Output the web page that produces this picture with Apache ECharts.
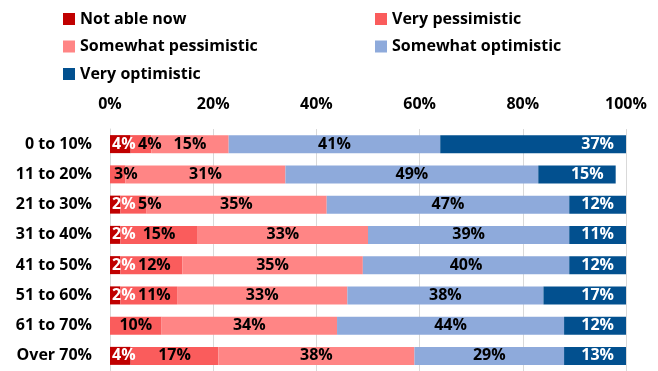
<!DOCTYPE html>
<html>
<head>
<meta charset="utf-8">
<script src="https://cdn.jsdelivr.net/npm/echarts@6/dist/echarts.min.js"></script>
<style>
  html, body { margin: 0; padding: 0; background: #fff; }
  #chart { width: 658px; height: 371px; }
</style>
</head>
<body>
<div id="chart"></div>
<script>
// Age bands (share of life elapsed) shown top to bottom
var categories = ['0 to 10%', '11 to 20%', '21 to 30%', '31 to 40%', '41 to 50%', '51 to 60%', '61 to 70%', 'Over 70%'];

// Percentage of respondents in each outlook group
var notAbleNow          = [4, 0, 2, 2, 2, 2, 0, 4];
var veryPessimistic     = [4, 3, 5, 15, 12, 11, 10, 17];
var somewhatPessimistic = [15, 31, 35, 33, 35, 33, 34, 38];
var somewhatOptimistic  = [41, 49, 47, 39, 40, 38, 44, 29];
var veryOptimistic      = [37, 15, 12, 11, 12, 17, 12, 13];

var seriesNames = ['Not able now', 'Very pessimistic', 'Somewhat pessimistic', 'Somewhat optimistic', 'Very optimistic'];
var xTicks = [0, 20, 40, 60, 80, 100];

var FONT = '"Open Sans", "DejaVu Sans", sans-serif';
var GRID_LEFT = 110;

var chart = echarts.init(document.getElementById('chart'), null, { renderer: 'canvas' });

function pctLabel(p) {
  return p.value > 0 ? p.value + '%' : '';
}

function makeSeries(name, values, color, labelOpts) {
  return {
    name: name,
    type: 'bar',
    stack: 'total',
    barWidth: 18,
    data: values,
    itemStyle: { color: color },
    label: Object.assign({
      show: true,
      position: 'inside',
      formatter: pctLabel,
      color: '#000',
      fontFamily: FONT,
      fontWeight: 'bold',
      fontSize: 16
    }, labelOpts || {}),
    emphasis: { disabled: true }
  };
}

var legendText = { fontFamily: FONT, fontWeight: 'bold', fontSize: 16, color: '#000', lineHeight: 16 };

var option = {
  animation: false,
  backgroundColor: '#fff',
  legend: [
    {
      orient: 'vertical', left: 58, top: 6,
      itemWidth: 12, itemHeight: 12, itemGap: 11.5, icon: 'rect',
      textStyle: legendText,
      data: [seriesNames[0], seriesNames[2], seriesNames[4]],
      selectedMode: false
    },
    {
      orient: 'vertical', left: 370, top: 6,
      itemWidth: 12, itemHeight: 12, itemGap: 11.5, icon: 'rect',
      textStyle: legendText,
      data: [seriesNames[1], seriesNames[3]],
      selectedMode: false
    }
  ],
  grid: { left: GRID_LEFT, right: 32, top: 129, bottom: -2.5, containLabel: false },
  xAxis: {
    type: 'value',
    position: 'top',
    min: xTicks[0],
    max: xTicks[xTicks.length - 1],
    interval: xTicks[1] - xTicks[0],
    axisLine: { show: false },
    axisTick: { show: false },
    splitLine: { show: true, lineStyle: { color: '#d9d9d9', width: 1 } },
    axisLabel: {
      formatter: '{value}%',
      fontFamily: FONT, fontWeight: 'bold', fontSize: 16, color: '#000',
      margin: 17
    }
  },
  yAxis: {
    type: 'category',
    inverse: true,
    data: categories,
    axisLine: { show: true, lineStyle: { color: '#d9d9d9', width: 1 } },
    axisTick: { show: false },
    axisLabel: {
      fontFamily: FONT, fontWeight: 'bold', fontSize: 16, color: '#000',
      margin: 18
    }
  },
  // keep small "very pessimistic" labels clear of the plot edge and the neighbouring label
  labelLayout: function (params) {
    if (params.seriesIndex !== 1) return;
    var minX = notAbleNow[params.dataIndex] > 0 ? GRID_LEFT + 28 : GRID_LEFT + 4;
    if (params.labelRect.x < minX) {
      return { x: minX, y: params.labelRect.y + params.labelRect.height / 2, align: 'left', verticalAlign: 'middle' };
    }
  },
  series: [
    makeSeries(seriesNames[0], notAbleNow, '#c00000', { position: 'insideLeft', distance: 2, color: '#fff' }),
    makeSeries(seriesNames[1], veryPessimistic, '#fa5c5c'),
    makeSeries(seriesNames[2], somewhatPessimistic, '#ff8585'),
    makeSeries(seriesNames[3], somewhatOptimistic, '#8eaadb'),
    makeSeries(seriesNames[4], veryOptimistic, '#02508f', { position: 'insideRight', distance: 12, color: '#fff' })
  ]
};

chart.setOption(option);
</script>
</body>
</html>
